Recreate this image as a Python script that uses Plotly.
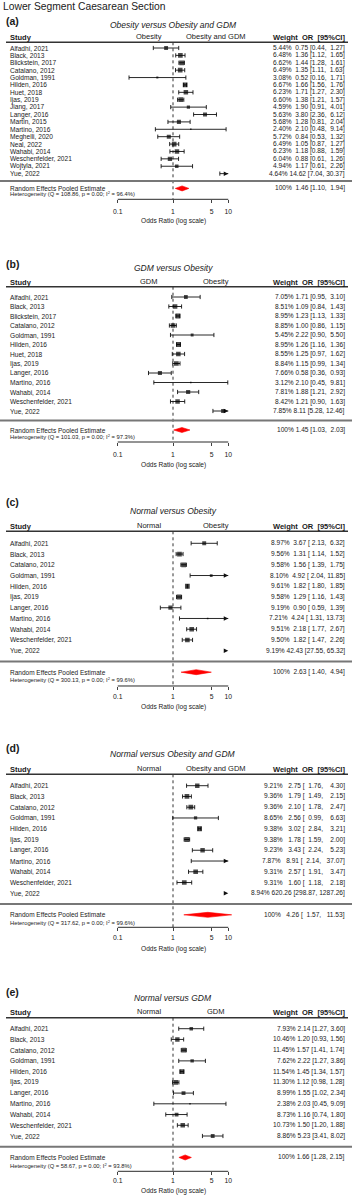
import plotly.graph_objects as go

W, H = 356, 1199

# ---------------- data ----------------
studies_a = ["Alfadhi, 2021", "Black, 2013", "Blickstein, 2017", "Catalano, 2012", "Goldman, 1991",
             "Hilden, 2016", "Huet, 2018", "Ijas, 2019", "Jiang, 2017", "Langer, 2016", "Martin, 2015",
             "Martino, 2016", "Meghelli, 2020", "Neal, 2022", "Wahabi, 2014", "Weschenfelder, 2021",
             "Wojtyla, 2021", "Yue, 2022"]
weight_a = [5.44, 6.48, 6.62, 6.49, 3.08, 6.67, 6.23, 6.60, 4.59, 5.63, 5.68, 2.40, 5.72, 6.49, 6.23, 6.04, 4.94, 4.64]
or_a = [0.75, 1.36, 1.44, 1.35, 0.52, 1.66, 1.71, 1.38, 1.90, 3.80, 1.28, 2.10, 0.84, 1.05, 1.18, 0.88, 1.17, 14.62]
lo_a = [0.44, 1.12, 1.28, 1.11, 0.16, 1.56, 1.27, 1.21, 0.91, 2.36, 0.81, 0.48, 0.53, 0.87, 0.88, 0.61, 0.61, 7.04]
hi_a = [1.27, 1.65, 1.61, 1.63, 1.71, 1.76, 2.30, 1.57, 4.01, 6.12, 2.04, 9.14, 1.32, 1.27, 1.59, 1.26, 2.26, 30.37]
pooled_a = [1.46, 1.10, 1.94]
het_a = ["108.86", "0.00", "96.4"]

studies_b = ["Alfadhi, 2021", "Black, 2013", "Blickstein, 2017", "Catalano, 2012", "Goldman, 1991",
             "Hilden, 2016", "Huet, 2018", "Ijas, 2019", "Langer, 2016", "Martino, 2016", "Wahabi, 2014",
             "Weschenfelder, 2021", "Yue, 2022"]
weight_b = [7.05, 8.51, 8.95, 8.85, 5.45, 8.95, 8.55, 8.84, 7.66, 3.12, 7.81, 8.42, 7.85]
or_b = [1.71, 1.09, 1.23, 1.00, 2.22, 1.26, 1.25, 1.15, 0.58, 2.10, 1.88, 1.21, 8.11]
lo_b = [0.95, 0.84, 1.13, 0.86, 0.90, 1.16, 0.97, 0.99, 0.36, 0.45, 1.21, 0.90, 5.28]
hi_b = [3.10, 1.43, 1.33, 1.15, 5.50, 1.36, 1.62, 1.34, 0.93, 9.81, 2.92, 1.63, 12.46]
pooled_b = [1.45, 1.03, 2.03]
het_b = ["101.03", "0.00", "97.3"]

studies_cde = ["Alfadhi, 2021", "Black, 2013", "Catalano, 2012", "Goldman, 1991", "Hilden, 2016",
               "Ijas, 2019", "Langer, 2016", "Martino, 2016", "Wahabi, 2014", "Weschenfelder, 2021", "Yue, 2022"]

weight_c = [8.97, 9.56, 9.58, 8.10, 9.61, 9.58, 9.19, 7.21, 9.51, 9.50, 9.19]
or_c = [3.67, 1.31, 1.56, 4.92, 1.82, 1.29, 0.90, 4.24, 2.18, 1.82, 42.43]
lo_c = [2.13, 1.14, 1.39, 2.04, 1.80, 1.16, 0.59, 1.31, 1.77, 1.47, 27.55]
hi_c = [6.32, 1.52, 1.75, 11.85, 1.85, 1.43, 1.39, 13.73, 2.67, 2.26, 65.32]
pooled_c = [2.63, 1.40, 4.94]
het_c = ["300.13", "0.00", "99.6"]

weight_d = [9.21, 9.36, 9.36, 8.65, 9.38, 9.38, 9.23, 7.87, 9.31, 9.31, 8.94]
or_d = [2.75, 1.79, 2.10, 2.56, 3.02, 1.78, 3.43, 8.91, 2.57, 1.60, 620.26]
lo_d = [1.76, 1.49, 1.78, 0.99, 2.84, 1.59, 2.24, 2.14, 1.91, 1.18, 298.87]
hi_d = [4.30, 2.15, 2.47, 6.63, 3.21, 2.00, 5.23, 37.07, 3.47, 2.18, 1287.26]
pooled_d = [4.26, 1.57, 11.53]
het_d = ["317.62", "0.00", "99.6"]

weight_e = [7.93, 10.46, 11.45, 7.62, 11.54, 11.30, 8.99, 2.38, 8.73, 10.73, 8.86]
or_e = [2.14, 1.20, 1.57, 2.22, 1.45, 1.12, 1.55, 2.03, 1.16, 1.50, 5.23]
lo_e = [1.27, 0.93, 1.41, 1.27, 1.34, 0.98, 1.02, 0.45, 0.74, 1.20, 3.41]
hi_e = [3.60, 1.56, 1.74, 3.86, 1.57, 1.28, 2.34, 9.09, 1.80, 1.88, 8.02]
pooled_e = [1.66, 1.28, 2.15]
het_e = ["58.67", "0.00", "93.8"]

tick_vals = [0.1, 1, 5, 10]
tick_text = ["0.1", "1", "5", "10"]
axis_lim = [0.1, 10]

panels = [
    dict(tag="(a)", sub="Obesity versus Obesity and GDM", left="Obesity", right="Obesity and GDM",
         studies=studies_a, w=weight_a, est=or_a, lo=lo_a, hi=hi_a, pooled=pooled_a, het=het_a),
    dict(tag="(b)", sub="GDM versus Obesity", left="GDM", right="Obesity",
         studies=studies_b, w=weight_b, est=or_b, lo=lo_b, hi=hi_b, pooled=pooled_b, het=het_b),
    dict(tag="(c)", sub="Normal versus Obesity", left="Normal", right="Obesity",
         studies=studies_cde, w=weight_c, est=or_c, lo=lo_c, hi=hi_c, pooled=pooled_c, het=het_c),
    dict(tag="(d)", sub="Normal versus Obesity and GDM", left="Normal", right="Obesity and GDM",
         studies=studies_cde, w=weight_d, est=or_d, lo=lo_d, hi=hi_d, pooled=pooled_d, het=het_d),
    dict(tag="(e)", sub="Normal versus GDM", left="Normal", right="GDM",
         studies=studies_cde, w=weight_e, est=or_e, lo=lo_e, hi=hi_e, pooled=pooled_e, het=het_e),
]

# ---------------- layout (pixel anchors) ----------------
geo = [
    dict(label=20.7, sub=25.0, head=37.3, line=42.3, row0=48.0, sp=7.39, axis=199.3, ticks=211.0, title=221.3),
    dict(label=264.3, sub=268.3, head=282.7, line=286.7, row0=297.0, sp=9.5, axis=442.0, ticks=454.0, title=465.0),
    dict(label=502.3, sub=510.7, head=526.7, line=531.3, row0=543.3, sp=10.74, axis=686.0, ticks=695.7, title=707.3),
    dict(label=748.3, sub=753.7, head=769.3, line=774.3, row0=785.7, sp=10.76, axis=927.3, ticks=937.7, title=949.3),
    dict(label=992.3, sub=997.7, head=1012.3, line=1017.7, row0=1028.7, sp=10.73, axis=1171.3, ticks=1180.0, title=1190.7),
]

FONT = "Liberation Sans"
TXT = "#1a1a1a"
X_ONE = 173.0      # pixel of OR = 1
X_DEC = 55.25      # pixels per decade
x_range = [-X_ONE / X_DEC, (W - X_ONE) / X_DEC]


def px(x):
    return x / W


def py(y):
    return 1 - y / H


NB = "\u00a0"


def fmt_col(vals):
    s = [f"{v:.2f}" for v in vals]
    m = max(len(t) for t in s)
    return [NB * (m - len(t)) + t for t in s]


fig = go.Figure()
annotations = []
shapes = []


def ann(text, x, y, size, xanchor="left", yref="paper", yval=None, color=TXT, xref="paper"):
    annotations.append(dict(text=text, x=x, y=(py(y) if yref == "paper" else yval), xref=xref, yref=yref,
                            xanchor=xanchor, yanchor="middle", showarrow=False,
                            font=dict(family=FONT, size=size, color=color)))


ann("Lower Segment Caesarean Section", px(1), 6.5, 10.3)

for i, (p, g) in enumerate(zip(panels, geo)):
    k = i + 1
    xa = "x" if k == 1 else f"x{k}"
    ya = "y" if k == 1 else f"y{k}"
    n = len(p["studies"])
    sp = g["sp"]
    bottom_px = g["axis"] + 4
    y_bot = (bottom_px - g["row0"]) / sp
    y_top = (g["line"] - g["row0"]) / sp
    axis_row = (g["axis"] - g["row0"]) / sp
    pooled_row = n + 1
    fig.update_layout({
        ("xaxis" if k == 1 else f"xaxis{k}"): dict(
            type="log", range=x_range, domain=[0, 1], anchor="free", position=py(g["axis"]),
            tickvals=tick_vals, ticktext=tick_text, ticks="outside", ticklen=3, tickwidth=0.8,
            tickcolor="#111", showgrid=False, zeroline=False, showline=False,
            ticklabelstandoff=max(0, round(g["ticks"] - g["axis"] - 9)),
            tickfont=dict(family=FONT, size=6.8, color=TXT), fixedrange=True),
        ("yaxis" if k == 1 else f"yaxis{k}"): dict(
            range=[y_bot, y_top], domain=[py(bottom_px), py(g["line"])], anchor=xa,
            visible=False, fixedrange=True),
    })

    # reference line at OR = 1
    fig.add_trace(go.Scatter(x=[1, 1], y=[y_top, axis_row], mode="lines", xaxis=xa, yaxis=ya,
                             line=dict(color="#333", width=1, dash="dot"), hoverinfo="skip"))
    # x axis line between limits
    fig.add_trace(go.Scatter(x=axis_lim, y=[axis_row, axis_row], mode="lines", xaxis=xa, yaxis=ya,
                             line=dict(color="#111", width=0.9), hoverinfo="skip"))

    # CI segments, caps, arrows, squares
    seg_x, seg_y, cap_x, cap_y, arr_x, arr_y = [], [], [], [], [], []
    sq_x, sq_y, sq_s = [], [], []
    wmin, wmax = min(p["w"]), max(p["w"])
    for j in range(n):
        lo, hi, est = p["lo"][j], p["hi"][j], p["est"][j]
        a = max(lo, axis_lim[0])
        b = min(hi, axis_lim[1])
        if lo <= axis_lim[1]:
            seg_x += [a, b, None]
            seg_y += [j, j, None]
        if lo >= axis_lim[0] and lo <= axis_lim[1]:
            cap_x.append(lo)
            cap_y.append(j)
        if hi <= axis_lim[1]:
            cap_x.append(hi)
            cap_y.append(j)
        else:
            arr_x.append(axis_lim[1])
            arr_y.append(j)
        if axis_lim[0] <= est <= axis_lim[1]:
            ps = 0.5 + (p["w"][j] - wmin) / (wmax - wmin)
            sq_x.append(est)
            sq_y.append(j)
            sq_s.append(3.2 * ps)
    fig.add_trace(go.Scatter(x=seg_x, y=seg_y, mode="lines", xaxis=xa, yaxis=ya,
                             line=dict(color="#111", width=0.9), hoverinfo="skip"))
    fig.add_trace(go.Scatter(x=cap_x, y=cap_y, mode="markers", xaxis=xa, yaxis=ya,
                             marker=dict(symbol="line-ns-open", size=3, color="#111",
                                         line=dict(color="#111", width=0.9)),
                             hoverinfo="skip"))
    if arr_x:
        fig.add_trace(go.Scatter(x=arr_x, y=arr_y, mode="markers", xaxis=xa, yaxis=ya, cliponaxis=False,
                                 marker=dict(symbol="arrow-right", size=4.5, color="#111",
                                             line=dict(width=0)), hoverinfo="skip"))
    fig.add_trace(go.Scatter(x=sq_x, y=sq_y, mode="markers", xaxis=xa, yaxis=ya,
                             marker=dict(symbol="square", size=sq_s, color="#000", line=dict(width=0)),
                             hoverinfo="skip"))

    # pooled diamond
    pe, pl, ph = p["pooled"]
    hh = 2.5 / sp
    fig.add_trace(go.Scatter(x=[pl, pe, ph, pe, pl], y=[pooled_row, pooled_row - hh, pooled_row,
                                                        pooled_row + hh, pooled_row],
                             mode="lines", fill="toself", fillcolor="#ff0000", xaxis=xa, yaxis=ya,
                             line=dict(color="#ff0000", width=0.6), hoverinfo="skip"))

    # lines
    shapes.append(dict(type="line", xref="paper", yref="paper", x0=px(6), x1=px(348),
                       y0=py(g["line"]), y1=py(g["line"]), line=dict(color="#333", width=1.5)))
    shapes.append(dict(type="line", xref="paper", yref=ya, x0=px(0), x1=px(352),
                       y0=n, y1=n, line=dict(color="#777", width=2)))

    # texts
    ann(f"<b>{p['tag']}</b>", px(3.5), g["label"], 10.5)
    ann(f"<i>{p['sub']}</i>", px(173), g["sub"], 8.5, xanchor="center")
    ann("<b>Study</b>", px(8), g["head"], 7.5)
    ann(p["left"], px(149), g["head"] - 1, 7.5, xanchor="center")
    ann(p["right"], px(215.5), g["head"] - 1, 7.5, xanchor="center")
    ann(f"<b>Weight{NB}{NB}OR{NB}{NB}[95%CI]</b>", px(346.5), g["head"], 7.5, xanchor="right")

    est_s = fmt_col(p["est"] + [pe])
    lo_s = fmt_col(p["lo"] + [pl])
    hi_s = fmt_col(p["hi"] + [ph])
    wts = [f"{w:.2f}%" for w in p["w"]] + ["100%"]
    for j in range(n + 1):
        row = j if j < n else pooled_row
        if j < n:
            ann(p["studies"][j], px(8), 0, 6.6, yref=ya, yval=row)
        s = f"{wts[j]}{NB}{est_s[j]}{NB}[{lo_s[j]},{NB}{hi_s[j]}]"
        ann(s, px(346.5), 0, 6.6, xanchor="right", yref=ya, yval=row)
    ann("Random Effects Pooled Estimate", px(8), 0, 6.5, yref=ya, yval=pooled_row)
    q, pv, i2 = p["het"]
    ann(f"Heterogeneity (Q = {q}, p = {pv}; I<sup>2</sup> = {i2}%)", px(8), 0, 5.8, yref=ya,
        yval=n + 1.72)
    ann("Odds Ratio (log scale)", px(173), g["title"], 6.6, xanchor="center")

fig.update_layout(width=W, height=H, margin=dict(l=0, r=0, t=0, b=0), showlegend=False,
                  paper_bgcolor="white", plot_bgcolor="white", annotations=annotations, shapes=shapes,
                  font=dict(family=FONT, color=TXT), hovermode=False)
fig.write_html("out.html", config={"displayModeBar": False, "staticPlot": True},
               post_script="document.body.style.margin='0';document.body.style.overflow='hidden';")
